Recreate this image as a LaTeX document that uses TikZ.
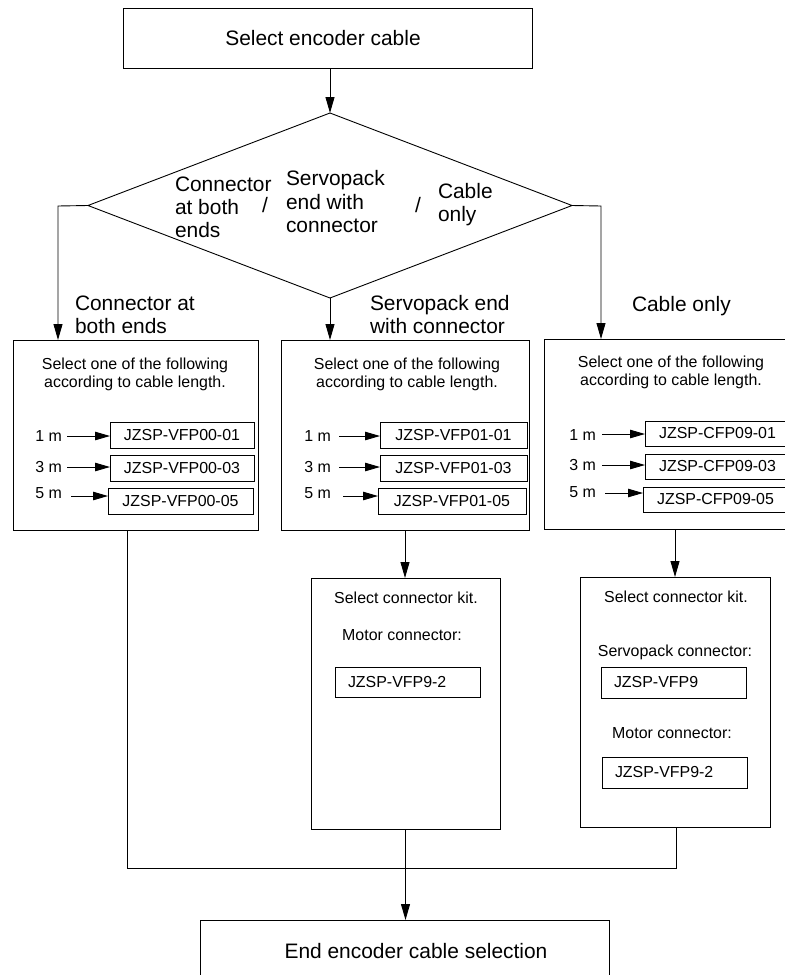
\documentclass[tikz,border=0pt]{standalone}
\usepackage{fontspec}
\setmainfont{Liberation Sans}
\usetikzlibrary{shapes.geometric,arrows.meta}
\begin{document}
\begin{tikzpicture}[x=1bp,y=-1bp,
  every node/.style={inner sep=0pt, outer sep=0pt},
  box/.style={draw, line width=0.9bp, rectangle},
  big/.style={font=\fontsize{21}{23}\selectfont},
  small/.style={font=\fontsize{16}{18}\selectfont},
  conn/.style={line width=0.9bp},
  arr/.style={conn, -{Triangle[length=16bp,width=9bp]}},
  sarr/.style={conn, -{Triangle[length=15bp,width=8.5bp]}},
  row/.style={box, small, minimum height=26bp},
  kitbox/.style={box, small, minimum height=31bp, inner xsep=13bp, text width=119bp, align=left},
]
\useasboundingbox (0,0) rectangle (785,975);
\clip (0,0) rectangle (785,975);

% top box
\node[box, minimum width=409bp, minimum height=60bp] (top) at (327.5,38) {};
\node[big, anchor=base] (toptxt) at (323,45) {Select encoder cable};

% decision
\node[draw, diamond, line width=0.9bp, minimum width=484bp, minimum height=185bp] (dia) at (330,205.5) {};
\draw[arr] (top.south -| dia.north) -- (dia.north);

\node[big, anchor=base west] (d1a) at (175,191) {Connector};
\node[big, anchor=base west] (d1b) at (175,214) {at both};
\node[big, anchor=base west] (d1c) at (175,237) {ends};
\node[big, anchor=base] (s1) at (265,212) {/};
\node[big, anchor=base west] (d2a) at (286,185) {Servopack};
\node[big, anchor=base west] (d2b) at (286,209) {end with};
\node[big, anchor=base west] (d2c) at (286,232) {connector};
\node[big, anchor=base] (s2) at (418,212) {/};
\node[big, anchor=base west] (d3a) at (438,198) {Cable};
\node[big, anchor=base west] (d3b) at (438,221) {only};

% branch labels
\node[big, anchor=base west] (b1a) at (75,310) {Connector at};
\node[big, anchor=base west] (b1b) at (75,333) {both ends};
\node[big, anchor=base west] (b2a) at (370,310) {Servopack end};
\node[big, anchor=base west] (b2b) at (370,333) {with connector};
\node[big, anchor=base west] (b3a) at (632,311) {Cable only};

% selection boxes
\node[box, minimum width=245bp, minimum height=190bp] (lb) at (135.5,435) {};
\node[box, minimum width=248bp, minimum height=190bp] (mb) at (405,435) {};
\node[box, minimum width=256bp, minimum height=190bp] (rb) at (672,434) {};

\coordinate (lc) at (58,206);
\coordinate (rc) at (601,206);
\draw[arr] (dia.west) -- (lc) -- (lc |- lb.north);
\draw[arr] (dia.south) -- (dia.south |- mb.north);
\draw[arr] (dia.east) -- (rc) -- (rc |- rb.north);

% headers
\node[small, anchor=base] (lh1) at (135,369) {Select one of the following};
\node[small, anchor=base] (lh2) at (135,387) {according to cable length.};
\node[small, anchor=base] (mh1) at (407,369) {Select one of the following};
\node[small, anchor=base] (mh2) at (407,387) {according to cable length.};
\node[small, anchor=base] (rh1) at (671,367) {Select one of the following};
\node[small, anchor=base] (rh2) at (671,385) {according to cable length.};

% left rows
\node[row, minimum width=144bp] (l1) at (182,435) {JZSP-VFP00-01};
\node[row, minimum width=144bp] (l3) at (182,468) {JZSP-VFP00-03};
\node[row, minimum width=145bp] (l5) at (180.5,501) {JZSP-VFP00-05};
\node[small, anchor=base east] (lm1) at (62,441) {1 m};
\node[small, anchor=base east] (lm3) at (62,472) {3 m};
\node[small, anchor=base east] (lm5) at (62,498) {5 m};
\coordinate (la1) at (67,436);
\coordinate (la3) at (67,467);
\coordinate (la5) at (71,496);
\draw[sarr] (la1) -- (la1 -| l1.west);
\draw[sarr] (la3) -- (la3 -| l3.west);
\draw[sarr] (la5) -- (la5 -| l5.west);

% middle rows
\node[row, minimum width=147bp] (m1) at (453.5,435) {JZSP-VFP01-01};
\node[row, minimum width=147bp] (m3) at (453.5,468) {JZSP-VFP01-03};
\node[row, minimum width=148bp] (m5) at (452,501) {JZSP-VFP01-05};
\node[small, anchor=base east] (mm1) at (331,441) {1 m};
\node[small, anchor=base east] (mm3) at (331,472) {3 m};
\node[small, anchor=base east] (mm5) at (331,498) {5 m};
\coordinate (ma1) at (339,436);
\coordinate (ma3) at (339,467);
\coordinate (ma5) at (343,496);
\draw[sarr] (ma1) -- (ma1 -| m1.west);
\draw[sarr] (ma3) -- (ma3 -| m3.west);
\draw[sarr] (ma5) -- (ma5 -| m5.west);

% right rows
\node[row, minimum width=145bp, minimum height=25bp] (r1) at (717.5,433.5) {JZSP-CFP09-01};
\node[row, minimum width=145bp, minimum height=25bp] (r3) at (717.5,466.5) {JZSP-CFP09-03};
\node[row, minimum width=145bp, minimum height=25bp] (r5) at (715.5,499.5) {JZSP-CFP09-05};
\node[small, anchor=base east] (rm1) at (596,440) {1 m};
\node[small, anchor=base east] (rm3) at (596,470) {3 m};
\node[small, anchor=base east] (rm5) at (596,497) {5 m};
\coordinate (ra1) at (602,434);
\coordinate (ra3) at (602,465);
\coordinate (ra5) at (605,493);
\draw[sarr] (ra1) -- (ra1 -| r1.west);
\draw[sarr] (ra3) -- (ra3 -| r3.west);
\draw[sarr] (ra5) -- (ra5 -| r5.west);

% connector kit boxes
\node[box, minimum width=189bp, minimum height=251bp] (mk) at (405.5,703.5) {};
\node[box, minimum width=190bp, minimum height=250bp] (rk) at (675,702) {};
\draw[arr] (mb.south) -- (mb.south |- mk.north);
\draw[arr] (rk.north |- rb.south) -- (rk.north);

\node[small, anchor=base] (mkt) at (406,603) {Select connector kit.};
\node[small, anchor=base] (mmc) at (402,640) {Motor connector:};
\node[kitbox, minimum height=30bp] (mv) at (407.5,682) {JZSP-VFP9-2};

\node[small, anchor=base] (rkt) at (676,602) {Select connector kit.};
\node[small, anchor=base] (rsc) at (675,656) {Servopack connector:};
\node[kitbox] (rv1) at (673.5,682.5) {JZSP-VFP9};
\node[small, anchor=base] (rmc) at (672,738) {Motor connector:};
\node[kitbox] (rv2) at (674.5,772.5) {JZSP-VFP9-2};

% end box
\node[box, minimum width=409bp, minimum height=60bp] (eb) at (404.5,950) {};
\node[big, anchor=base] (ebt) at (416,958) {End encoder cable selection};

% merge
\coordinate (ml) at (127,868);
\coordinate (mr) at (676,868);
\draw[conn] (lb.south -| ml) -- (ml) -- (mr) -- (mr |- rk.south);
\draw[arr] (mk.south) -- (mk.south |- eb.north);
\end{tikzpicture}
\end{document}
